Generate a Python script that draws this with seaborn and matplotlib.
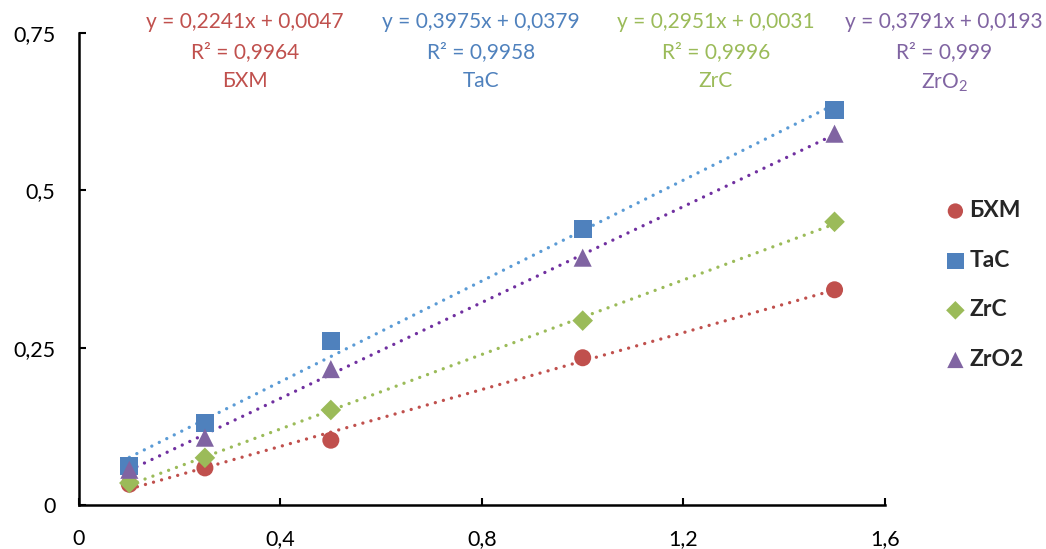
import numpy as np
import pandas as pd
import matplotlib
matplotlib.use("Agg")
import matplotlib.pyplot as plt
import seaborn as sns

# ---- data ----
x_vals = [0.1, 0.25, 0.5, 1.0, 1.5]
bhm = [0.033, 0.059, 0.103, 0.234, 0.342]
tac = [0.062, 0.130, 0.261, 0.439, 0.628]
zrc = [0.035, 0.075, 0.151, 0.293, 0.450]
zro2 = [0.056, 0.107, 0.216, 0.393, 0.590]
series_names = ["БХМ", "TaC", "ZrC", "ZrO2"]
eq_texts = [
    "y = 0,2241x + 0,0047\nR² = 0,9964\nБХМ",
    "y = 0,3975x + 0,0379\nR² = 0,9958\nTaC",
    "y = 0,2951x + 0,0031\nR² = 0,9996\nZrC",
    "y = 0,3791x + 0,0193\nR² = 0,999\nZrO$_2$",
]
xticks = [0, 0.4, 0.8, 1.2, 1.6]
xtick_labels = ["0", "0,4", "0,8", "1,2", "1,6"]
yticks = [0, 0.25, 0.5, 0.75]
ytick_labels = ["0", "0,25", "0,5", "0,75"]

df = pd.DataFrame({
    "x": x_vals * 4,
    "y": bhm + tac + zrc + zro2,
    "series": sum([[n] * len(x_vals) for n in series_names], []),
})

marker_colors = {"БХМ": "#C0504D", "TaC": "#4F81BD", "ZrC": "#9BBB59", "ZrO2": "#8064A2"}
line_colors = {"БХМ": "#C0504D", "TaC": "#5B9BD5", "ZrC": "#9BBB59", "ZrO2": "#7030A0"}
markers = {"БХМ": "o", "TaC": "s", "ZrC": "D", "ZrO2": "^"}
sizes = {"БХМ": 150, "TaC": 170, "ZrC": 110, "ZrO2": 170}

sns.set_theme(style="white")
plt.rcParams["font.family"] = ["Lato", "DejaVu Sans"]
plt.rcParams["mathtext.default"] = "regular"

fig = plt.figure(figsize=(10.46, 5.49), dpi=100)
ax = fig.add_axes([0.0755, 0.0801, 0.7705, 0.8598])

# trendlines
for n in series_names:
    sub = df[df["series"] == n]
    sns.regplot(data=sub, x="x", y="y", ax=ax, scatter=False, ci=None,
                line_kws=dict(color=line_colors[n], linestyle=(0, (0.01, 2.5)),
                              linewidth=2.4, dash_capstyle="round", zorder=2))

# markers
for n in series_names:
    sub = df[df["series"] == n]
    sns.scatterplot(data=sub, x="x", y="y", ax=ax, marker=markers[n],
                    color=marker_colors[n], s=sizes[n], edgecolor="none",
                    label=n, zorder=3, legend=True)

ax.set_xlim(0, 1.6)
ax.set_ylim(0, 0.75)
ax.set_xticks(xticks)
ax.set_xticklabels(xtick_labels)
ax.set_yticks(yticks)
ax.set_yticklabels(ytick_labels)
ax.set_xlabel("")
ax.set_ylabel("")
ax.tick_params(axis="both", labelsize=15.5, colors="black", direction="in",
               length=5, width=1.5, left=True, bottom=True, pad=17)
for s in ["top", "right"]:
    ax.spines[s].set_visible(False)
for s in ["left", "bottom"]:
    ax.spines[s].set_color("black")
    ax.spines[s].set_linewidth(1.8)

# equation annotations
eq_x = [245, 481, 716, 944]
for n, t, px in zip(series_names, eq_texts, eq_x):
    fig.text(px / 1046, 1 - 12 / 549, t, ha="center", va="top",
             color=marker_colors[n], fontsize=15, linespacing=1.6)

leg = ax.legend(loc="center left", bbox_to_anchor=(921 / 1046, 1 - 285 / 549),
                bbox_transform=fig.transFigure, frameon=False,
                prop={"weight": "bold", "size": 16.5}, handletextpad=0.0,
                handlelength=1.2, labelspacing=1.25, markerscale=0.9)

fig.savefig("out.png", dpi=100)
